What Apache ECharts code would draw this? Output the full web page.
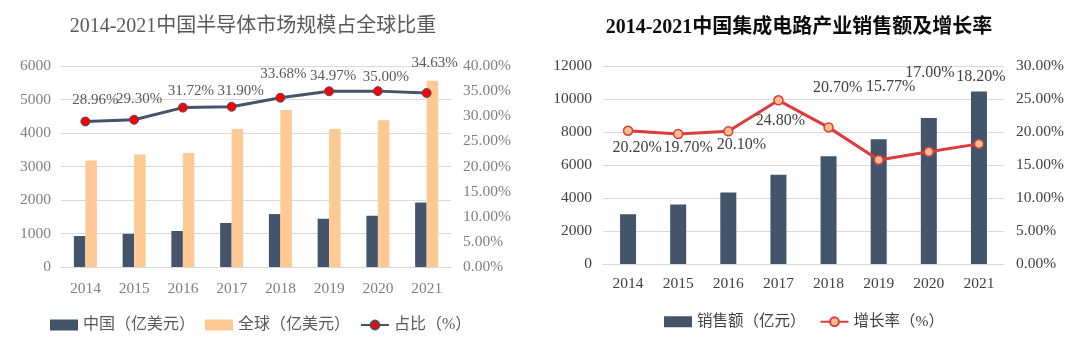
<!DOCTYPE html>
<html>
<head>
<meta charset="utf-8">
<script src="https://cdn.jsdelivr.net/npm/echarts@6/dist/echarts.min.js"></script>
<style>
html,body{margin:0;padding:0;background:#fff;}
#wrap{width:1080px;height:360px;display:flex;}
#c1,#c2{width:540px;height:360px;}
</style>
</head>
<body>
<div id="wrap"><div id="c1"></div><div id="c2"></div></div>
<script>
// ---- data ----
const years = ['2014','2015','2016','2017','2018','2019','2020','2021'];
const chinaMarket = [925, 990, 1075, 1315, 1580, 1440, 1530, 1925];   // 亿美元
const globalMarket = [3180, 3360, 3400, 4120, 4690, 4120, 4380, 5560]; // 亿美元
const chinaShare = [28.96, 29.30, 31.72, 31.90, 33.68, 34.97, 35.00, 34.63]; // %
const icSales = [3015, 3610, 4336, 5411, 6532, 7562, 8848, 10458]; // 亿元
const icGrowth = [20.20, 19.70, 20.10, 24.80, 20.70, 15.77, 17.00, 18.20]; // %
const leftTitle = '2014-2021中国半导体市场规模占全球比重';
const rightTitle = '2014-2021中国集成电路产业销售额及增长率';
const leftNames = ['中国（亿美元）', '全球（亿美元）', '占比（%）'];
const rightNames = ['销售额（亿元）', '增长率（%）'];

// ---- styling ----
const SERIF = '"Liberation Serif", "Noto Sans CJK SC", serif';
const shareLabelOffset = [[10,-21],[5,-21],[8,-17],[9,-16],[3,-24],[4,-15],[8,-14],[8,-30]];
const growthLabelOffset = [[9,17],[10,14],[13,13],[2,20],[9,-40],[12,-73],[1,-79],[2,-67]];
const pct = v => Number(v).toFixed(2) + '%';
const plain = v => String(v);

function withOffsets(vals, offs) {
  return vals.map((v, i) => ({ value: v, label: { offset: offs[i] } }));
}

const c1 = echarts.init(document.getElementById('c1'), null, {renderer: 'canvas'});
const c2 = echarts.init(document.getElementById('c2'), null, {renderer: 'canvas'});

const grayL = '#7f7f7f';
const gridColor = '#d9d9d9';

c1.setOption({
  animation: false,
  graphic: [{
    type: 'text', x: 253, y: 27,
    style: { text: leftTitle, fontSize: 20, fontFamily: SERIF, fill: '#595959', align: 'center', verticalAlign: 'middle' }
  }],
  legend: {
    left: 50, top: 317, padding: 0, itemGap: 10, itemWidth: 28, itemHeight: 11,
    textStyle: { fontSize: 16, fontFamily: SERIF, color: '#595959' },
    data: [
      { name: leftNames[0], icon: 'rect' },
      { name: leftNames[1], icon: 'rect' },
      { name: leftNames[2] }
    ]
  },
  grid: { left: 61, right: 89, top: 66, bottom: 93 },
  xAxis: {
    type: 'category', data: years,
    axisLine: { lineStyle: { color: gridColor } },
    axisTick: { show: false },
    axisLabel: { fontSize: 15.5, fontFamily: SERIF, color: grayL, margin: 14 }
  },
  yAxis: [{
    type: 'value', min: 0, max: 6000, interval: 1000,
    axisLine: { show: false }, axisTick: { show: false },
    splitLine: { lineStyle: { color: gridColor } },
    axisLabel: { fontSize: 15.5, fontFamily: SERIF, color: grayL, margin: 10, formatter: plain }
  }, {
    type: 'value', min: 0, max: 40, interval: 5,
    axisLine: { show: false }, axisTick: { show: false }, splitLine: { show: false },
    axisLabel: { fontSize: 15.5, fontFamily: SERIF, color: grayL, margin: 12, formatter: pct }
  }],
  series: [{
    name: leftNames[0], type: 'bar', data: chinaMarket, barWidth: 11.5, barGap: '0%',
    itemStyle: { color: '#44546a' }
  }, {
    name: leftNames[1], type: 'bar', data: globalMarket, barWidth: 11.5, barGap: '0%',
    itemStyle: { color: '#ffc993' }
  }, {
    name: leftNames[2], type: 'line', yAxisIndex: 1, data: withOffsets(chinaShare, shareLabelOffset),
    symbol: 'circle', symbolSize: 9,
    lineStyle: { color: '#44546a', width: 3 },
    itemStyle: { color: '#ff0000', borderColor: '#44546a', borderWidth: 1 },
    label: { show: true, position: 'inside', formatter: p => pct(p.value), fontSize: 15, fontFamily: SERIF, color: '#595959' },
    z: 5
  }]
});

const grayR = '#404040';
c2.setOption({
  animation: false,
  graphic: [{
    type: 'text', x: 259, y: 28,
    style: { text: rightTitle, fontSize: 20, fontFamily: SERIF, fontWeight: 'bold', fill: '#0d0d0d', align: 'center', verticalAlign: 'middle' }
  }],
  legend: {
    left: 124, top: 314, padding: 0, itemGap: 14, itemWidth: 28, itemHeight: 11,
    textStyle: { fontSize: 15.5, fontFamily: SERIF, color: grayR },
    data: [
      { name: rightNames[0], icon: 'rect' },
      { name: rightNames[1] }
    ]
  },
  grid: { left: 63, right: 76, top: 66, bottom: 96 },
  xAxis: {
    type: 'category', data: years,
    axisLine: { lineStyle: { color: gridColor } },
    axisTick: { show: false },
    axisLabel: { fontSize: 15.5, fontFamily: SERIF, color: grayR, margin: 12 }
  },
  yAxis: [{
    type: 'value', min: 0, max: 12000, interval: 2000,
    axisLine: { show: false }, axisTick: { show: false },
    splitLine: { lineStyle: { color: gridColor } },
    axisLabel: { fontSize: 15.5, fontFamily: SERIF, color: grayR, margin: 11, formatter: plain }
  }, {
    type: 'value', min: 0, max: 30, interval: 5,
    axisLine: { show: false }, axisTick: { show: false }, splitLine: { show: false },
    axisLabel: { fontSize: 15.5, fontFamily: SERIF, color: grayR, margin: 12, formatter: pct }
  }],
  series: [{
    name: rightNames[0], type: 'bar', data: icSales, barWidth: 16,
    itemStyle: { color: '#44546a' }
  }, {
    name: rightNames[1], type: 'line', yAxisIndex: 1, data: withOffsets(icGrowth, growthLabelOffset),
    symbol: 'circle', symbolSize: 9,
    lineStyle: { color: '#dc3c3c', width: 3 },
    itemStyle: { color: '#f9c08c', borderColor: '#dc3c3c', borderWidth: 1.5 },
    label: { show: true, position: 'inside', formatter: p => pct(p.value), fontSize: 16, fontFamily: SERIF, color: grayR },
    z: 5
  }]
});
</script>
</body>
</html>
